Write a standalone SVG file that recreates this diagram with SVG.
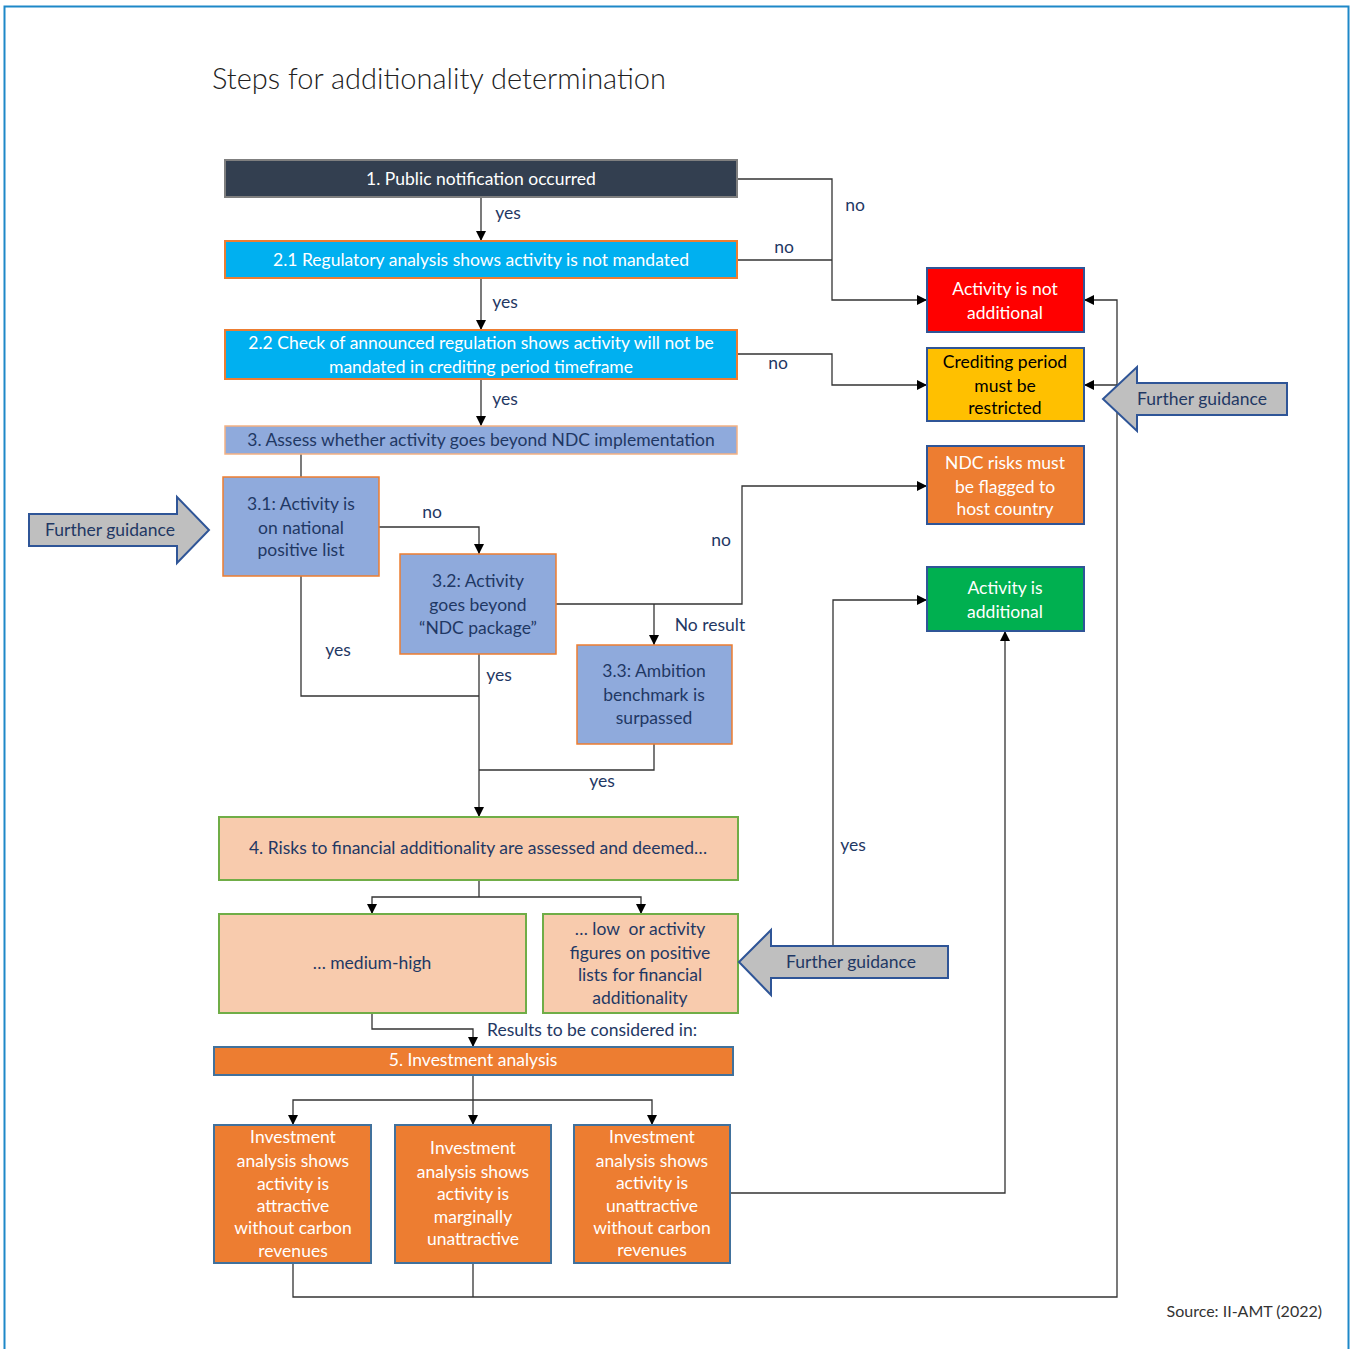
<svg xmlns="http://www.w3.org/2000/svg" width="1351" height="1349" viewBox="0 0 1351 1349">
<defs>
<marker id="ah" markerWidth="10" markerHeight="10" refX="10" refY="5" orient="auto" markerUnits="userSpaceOnUse">
<path d="M0,0 L10,5 L0,10 z" fill="#000"/>
</marker>
<style>
text{font-family:Lato,"Liberation Sans",sans-serif;font-size:17.5px;text-anchor:middle;dominant-baseline:central}
.w{fill:#fff}
.d{fill:#1F3864}
.k{fill:#000}
.lbl{fill:#1F3864}
.c{fill:none;stroke:#333;stroke-width:1.3}
.ca{fill:none;stroke:#333;stroke-width:1.3;marker-end:url(#ah)}
.blue{fill:#00B0F0;stroke:#ED7D31;stroke-width:2}
.lav{fill:#8FAADC;stroke:#ED7D31;stroke-width:1.5}
.peach{fill:#F8CBAD;stroke:#70AD47;stroke-width:2}
.org{fill:#ED7D31;stroke:#41719C;stroke-width:2}
.res{stroke:#2F5597;stroke-width:2}
.fg{fill:#BFBFBF;stroke:#2F5597;stroke-width:2}
</style>
</defs>
<rect x="0" y="0" width="1351" height="1349" fill="#fff"/>
<rect x="4.5" y="6.5" width="1344" height="1360" fill="none" stroke="#1E88C8" stroke-width="2"/>
<text x="212" y="77" style="font-size:29px;text-anchor:start;fill:#222;font-weight:300">Steps for additionality determination</text>

<g id="connectors">
<path class="ca" d="M481,197 V241"/>
<path class="ca" d="M481,278 V330"/>
<path class="ca" d="M481,379 V426"/>
<path class="ca" d="M737,179 H832 V300 H927"/>
<path class="c" d="M737,260 H832"/>
<path class="ca" d="M737,354 H832 V385 H927"/>
<path class="c" d="M301,454 V477"/>
<path class="ca" d="M379,527 H479 V554"/>
<path class="c" d="M301,576 V696 H479"/>
<path class="ca" d="M479,654 V817"/>
<path class="ca" d="M556,604 H742 V486 H927"/>
<path class="ca" d="M654,604 V645"/>
<path class="c" d="M654,744 V770 H479"/>
<path class="c" d="M479,880 V897"/>
<path class="ca" d="M479,897 H372 V914"/>
<path class="ca" d="M479,897 H641 V914"/>
<path class="ca" d="M372,1013 V1029 H473 V1047"/>
<path class="ca" d="M833,946 V600 H927"/>
<path class="c" d="M473,1075 V1100"/>
<path class="ca" d="M473,1100 H293 V1125"/>
<path class="ca" d="M473,1100 V1125"/>
<path class="ca" d="M473,1100 H652 V1125"/>
<path class="ca" d="M730,1193 H1005 V631"/>
<path class="ca" d="M293,1263 V1297 H1117 V300 H1084"/>
<path class="c" d="M473,1263 V1297"/>
<path class="ca" d="M1117,385 H1084"/>
<text class="lbl" x="508" y="212">yes</text>
<text class="lbl" x="505" y="301">yes</text>
<text class="lbl" x="505" y="398">yes</text>
<text class="lbl" x="855" y="204">no</text>
<text class="lbl" x="784" y="246">no</text>
<text class="lbl" x="778" y="362">no</text>
<text class="lbl" x="432" y="511">no</text>
<text class="lbl" x="338" y="649">yes</text>
<text class="lbl" x="499" y="674">yes</text>
<text class="lbl" x="721" y="539">no</text>
<text class="lbl" x="710" y="624">No result</text>
<text class="lbl" x="602" y="780">yes</text>
<text class="lbl" x="853" y="844">yes</text>
<text class="lbl" x="487" y="1029" style="text-anchor:start">Results to be considered in:</text>
</g>

<g id="n1"><rect x="225" y="160" width="512" height="37" fill="#333F50" stroke="#7F7F7F" stroke-width="2"/><text class="w" x="481" y="178">1. Public notification occurred</text></g>
<g id="n21"><rect class="blue" x="225" y="241" width="512" height="37"/><text class="w" x="481" y="259">2.1 Regulatory analysis shows activity is not mandated</text></g>
<g id="n22"><rect class="blue" x="225" y="330" width="512" height="49"/><text class="w" x="481" y="342">2.2 Check of announced regulation shows activity will not be</text><text class="w" x="481" y="366">mandated in crediting period timeframe</text></g>
<g id="n3"><rect x="225" y="426" width="512" height="28" fill="#8FAADC" stroke="#F4B183" stroke-width="1.5"/><text class="d" x="481" y="439">3. Assess whether activity goes beyond NDC implementation</text></g>
<g id="n31"><rect class="lav" x="223" y="477" width="156" height="99"/><text class="d" x="301" y="503">3.1: Activity is</text><text class="d" x="301" y="527">on national</text><text class="d" x="301" y="549">positive list</text></g>
<g id="n32"><rect class="lav" x="400" y="554" width="156" height="100"/><text class="d" x="478" y="580">3.2: Activity</text><text class="d" x="478" y="604">goes beyond</text><text class="d" x="478" y="627">“NDC package”</text></g>
<g id="n33"><rect class="lav" x="577" y="645" width="155" height="99"/><text class="d" x="654" y="670">3.3: Ambition</text><text class="d" x="654" y="694">benchmark is</text><text class="d" x="654" y="717">surpassed</text></g>
<g id="n4"><rect class="peach" x="219" y="817" width="519" height="63"/><text class="d" x="478" y="847">4. Risks to financial additionality are assessed and deemed…</text></g>
<g id="nmh"><rect class="peach" x="219" y="914" width="307" height="99"/><text class="d" x="372" y="962">… medium-high</text></g>
<g id="nlow"><rect class="peach" x="543" y="914" width="195" height="99"/><text class="d" x="640" y="928" style="white-space:pre">… low  or activity</text><text class="d" x="640" y="952">figures on positive</text><text class="d" x="640" y="974">lists for financial</text><text class="d" x="640" y="997">additionality</text></g>
<g id="n5"><rect class="org" x="214" y="1047" width="519" height="28"/><text class="w" x="473" y="1059">5. Investment analysis</text></g>
<g id="nA"><rect class="org" x="214" y="1125" width="157" height="138"/><text class="w" x="293" y="1136">Investment</text><text class="w" x="293" y="1160">analysis shows</text><text class="w" x="293" y="1183">activity is</text><text class="w" x="293" y="1205">attractive</text><text class="w" x="293" y="1227">without carbon</text><text class="w" x="293" y="1250">revenues</text></g>
<g id="nB"><rect class="org" x="395" y="1125" width="156" height="138"/><text class="w" x="473" y="1147">Investment</text><text class="w" x="473" y="1171">analysis shows</text><text class="w" x="473" y="1193">activity is</text><text class="w" x="473" y="1216">marginally</text><text class="w" x="473" y="1238">unattractive</text></g>
<g id="nC"><rect class="org" x="574" y="1125" width="156" height="138"/><text class="w" x="652" y="1136">Investment</text><text class="w" x="652" y="1160">analysis shows</text><text class="w" x="652" y="1182">activity is</text><text class="w" x="652" y="1205">unattractive</text><text class="w" x="652" y="1227">without carbon</text><text class="w" x="652" y="1249">revenues</text></g>
<g id="rNot"><rect class="res" x="927" y="268" width="157" height="64" fill="#FF0000"/><text class="w" x="1005" y="288">Activity is not</text><text class="w" x="1005" y="312">additional</text></g>
<g id="rCred"><rect class="res" x="927" y="348" width="157" height="73" fill="#FFC000"/><text class="k" x="1005" y="361">Crediting period</text><text class="k" x="1005" y="385">must be</text><text class="k" x="1005" y="407">restricted</text></g>
<g id="rNdc"><rect class="res" x="927" y="446" width="157" height="78" fill="#ED7D31"/><text class="w" x="1005" y="462">NDC risks must</text><text class="w" x="1005" y="486">be flagged to</text><text class="w" x="1005" y="508">host country</text></g>
<g id="rAdd"><rect class="res" x="927" y="567" width="157" height="64" fill="#00B050"/><text class="w" x="1005" y="587">Activity is</text><text class="w" x="1005" y="611">additional</text></g>
<g id="fgLeft"><polygon class="fg" points="29,514 177,514 177,497 209,530 177,563 177,546 29,546"/><text class="d" x="110" y="529">Further guidance</text></g>
<g id="fgRight"><polygon class="fg" points="1103,399 1137,367 1137,383 1287,383 1287,415 1137,415 1137,431"/><text class="d" x="1202" y="398">Further guidance</text></g>
<g id="fgBottom"><polygon class="fg" points="739,962 771,930 771,946 948,946 948,978 771,978 771,995"/><text class="d" x="851" y="961">Further guidance</text></g>
<text x="1322" y="1310" style="text-anchor:end;font-size:16px;fill:#333">Source: II-AMT (2022)</text>
</svg>
